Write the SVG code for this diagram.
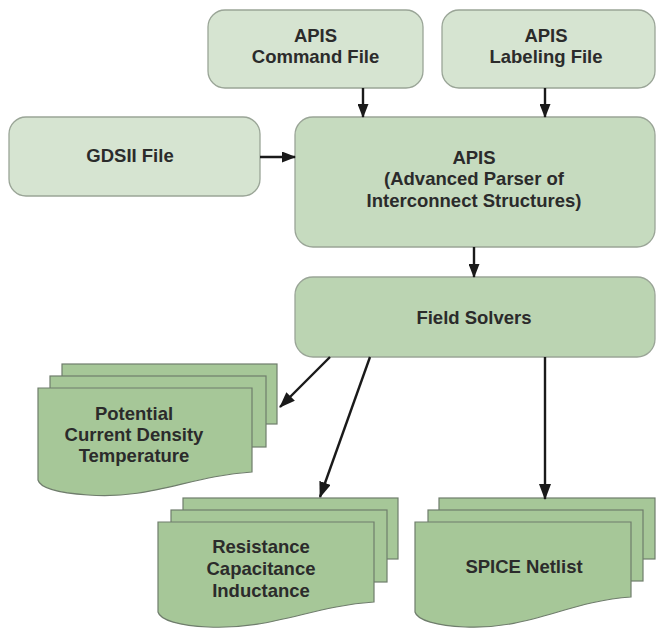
<svg xmlns="http://www.w3.org/2000/svg" width="657" height="629" viewBox="0 0 657 629">
<defs>
<style>
.box{stroke:#9aa597;stroke-width:1.3}
.in{fill:#d6e4d1}
.main{fill:#c6dbbf}
.fs{fill:#bbd4b2}
.doc{fill:#a6c798;stroke:#6f7d6c;stroke-width:1.2}
.t{font-family:"Liberation Sans",Arial,sans-serif;font-weight:bold;font-size:18.5px;fill:#2b2b2b;text-anchor:middle}
.c{stroke:#1a1a1a;stroke-width:2.4;fill:none}
</style>
<marker id="ah" markerWidth="14" markerHeight="11" refX="13" refY="5.5" orient="auto" markerUnits="userSpaceOnUse" viewBox="0 0 14 11">
<path d="M0,0 L14,5.5 L0,11 Z" fill="#1a1a1a"/>
</marker>
<marker id="ahl" markerWidth="16" markerHeight="12" refX="15" refY="6" orient="auto" markerUnits="userSpaceOnUse" viewBox="0 0 16 12">
<path d="M0,0 L16,6 L0,12 Z" fill="#1a1a1a"/>
</marker>
</defs>
<rect width="657" height="629" fill="#ffffff"/>

<g id="cmd">
<rect class="box in" x="208" y="10" width="215" height="78" rx="17"/>
<text class="t" x="315.5" y="42">APIS</text>
<text class="t" x="315.5" y="63">Command File</text>
</g>
<g id="label">
<rect class="box in" x="442" y="10" width="213" height="78" rx="17"/>
<text class="t" x="546" y="42">APIS</text>
<text class="t" x="546" y="63">Labeling File</text>
</g>
<g id="gdsii">
<rect class="box in" x="9" y="117" width="251" height="79" rx="17"/>
<text class="t" x="130" y="162">GDSII File</text>
</g>
<g id="apis">
<rect class="box main" x="295" y="117" width="360" height="130" rx="18"/>
<text class="t" x="474" y="163.5">APIS</text>
<text class="t" x="474" y="185">(Advanced Parser of</text>
<text class="t" x="474" y="206.5">Interconnect Structures)</text>
</g>
<g id="fieldsolvers">
<rect class="box fs" x="295" y="277" width="360" height="80" rx="18"/>
<text class="t" x="474" y="323.5">Field Solvers</text>
</g>

<g id="potential">
<rect class="doc" x="62" y="364" width="215" height="60"/>
<rect class="doc" x="50" y="376" width="216" height="71"/>
<path class="doc" d="M38,388 H252 V472 C190,476 150,500 88,495 C60,493 40,488 38,480 Z"/>
<text class="t" x="134" y="420">Potential</text>
<text class="t" x="134" y="441">Current Density</text>
<text class="t" x="134" y="462">Temperature</text>
</g>
<g id="rcl">
<rect class="doc" x="183" y="498" width="215" height="61"/>
<rect class="doc" x="171" y="510" width="216" height="72"/>
<path class="doc" d="M158,522 H374 V602 C312,606 272,630 208,627 C180,626 160,620 158,612 Z"/>
<text class="t" x="261" y="553">Resistance</text>
<text class="t" x="261" y="575">Capacitance</text>
<text class="t" x="261" y="597">Inductance</text>
</g>
<g id="spice">
<rect class="doc" x="439" y="498" width="216" height="61"/>
<rect class="doc" x="428" y="510" width="215" height="71"/>
<path class="doc" d="M415,522 H631 V597 C569,601 529,630 465,627 C437,626 417,620 415,612 Z"/>
<text class="t" x="524" y="573">SPICE Netlist</text>
</g>

<g id="connectors">
<line class="c" x1="363" y1="88" x2="363" y2="117" marker-end="url(#ah)"/>
<line class="c" x1="545" y1="88" x2="545" y2="117" marker-end="url(#ah)"/>
<line class="c" x1="260" y1="157" x2="295" y2="157" marker-end="url(#ah)"/>
<line class="c" x1="474" y1="247" x2="474" y2="277" marker-end="url(#ah)"/>
<line class="c" x1="330" y1="357" x2="280" y2="407" marker-end="url(#ahl)"/>
<line class="c" x1="370" y1="357" x2="320" y2="497" marker-end="url(#ahl)"/>
<line class="c" x1="545" y1="357" x2="545" y2="499" marker-end="url(#ahl)"/>
</g>
</svg>
